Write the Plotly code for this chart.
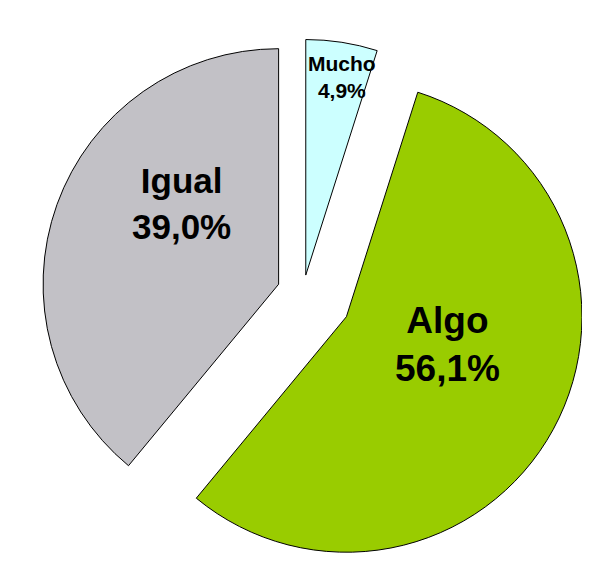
import math
import plotly.graph_objects as go

# ---- data ----
labels = ["Mucho", "Algo", "Igual"]
values = [4.9, 56.1, 39.0]
value_text = ["4,9%", "56,1%", "39,0%"]

# ---- style ----
colors = ["#CCFFFF", "#99CC00", "#C2C1C6"]
pulls = [0.077, 0.21, 0.11]
W, H = 590, 570

fig = go.Figure(
    go.Pie(
        labels=labels,
        values=values,
        sort=False,
        direction="clockwise",
        rotation=0,
        pull=pulls,
        marker=dict(colors=colors, line=dict(color="#000000", width=1)),
        textinfo="none",
        hoverinfo="label+percent",
        showlegend=False,
        domain=dict(x=[0, 1], y=[0, 1]),
    )
)

# label placement (polar offsets from the pie centre, in units of radius)
cx, cy = W / 2, H / 2
r = min(W, H) / 2 / (1 + max(pulls))
label_polar = [(10.3, 0.93), (109.7, 0.652), (306.5, 0.64)]
font_sizes = [21, 37, 35]
for lab, vt, (ang, d), fs in zip(labels, value_text, label_polar, font_sizes):
    a = math.radians(ang)
    px = cx + d * r * math.sin(a)
    py = cy - d * r * math.cos(a)
    fig.add_annotation(
        x=px / W, y=1 - py / H, xref="paper", yref="paper",
        xanchor="center", yanchor="middle",
        text=f"<b>{lab}<br>{vt}</b>", showarrow=False,
        font=dict(family="Liberation Sans, Arial, sans-serif", size=fs, color="#000000"),
        align="center",
    )

fig.update_layout(
    width=W, height=H,
    margin=dict(l=0, r=0, t=0, b=0),
    paper_bgcolor="white", plot_bgcolor="white",
)
fig.write_html("out.html")
